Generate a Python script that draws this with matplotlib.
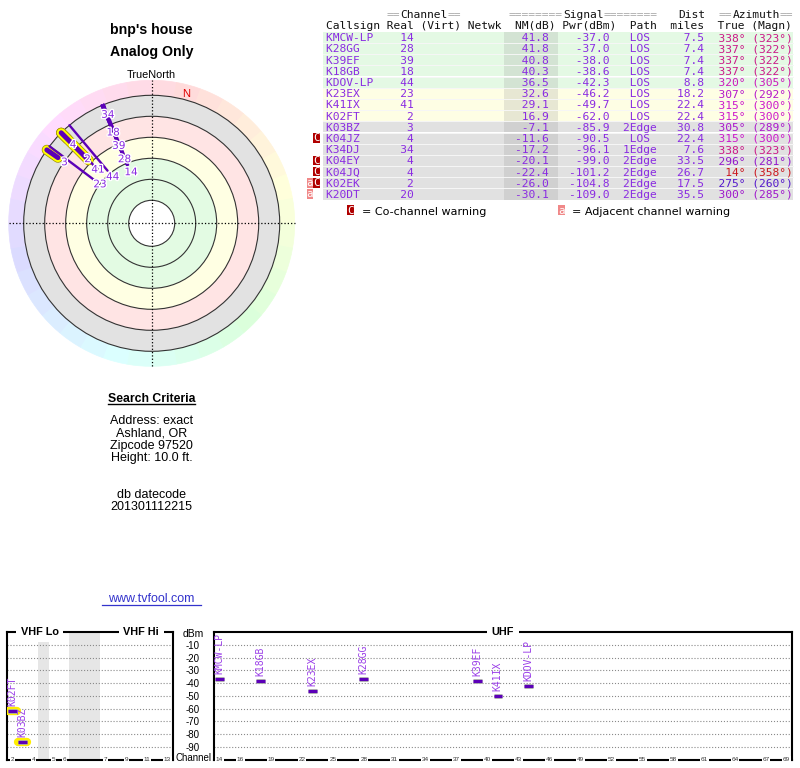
import colorsys
import numpy as np
import matplotlib
matplotlib.use('Agg')
import matplotlib.pyplot as plt
import matplotlib.patheffects as pe
import matplotlib.transforms as mtransforms
from matplotlib.patches import Wedge, Circle, Rectangle

# station table (sorted by NM)
callsigns = ['KMCW-LP', 'K28GG', 'K39EF', 'K18GB', 'KDOV-LP', 'K23EX', 'K41IX', 'K02FT',
             'K03BZ', 'K04JZ', 'K34DJ', 'K04EY', 'K04JQ', 'K02EK', 'K20DT']
real_ch = [14, 28, 39, 18, 44, 23, 41, 2, 3, 4, 34, 4, 4, 2, 20]
nm_db = [41.8, 41.8, 40.8, 40.3, 36.5, 32.6, 29.1, 16.9, -7.1, -11.6, -17.2, -20.1, -22.4, -26.0, -30.1]
pwr_dbm = [-37.0, -37.0, -38.0, -38.6, -42.3, -46.2, -49.7, -62.0, -85.9, -90.5, -96.1, -99.0,
           -101.2, -104.8, -109.0]
path = ['LOS', 'LOS', 'LOS', 'LOS', 'LOS', 'LOS', 'LOS', 'LOS', '2Edge', 'LOS', '1Edge',
        '2Edge', '2Edge', '2Edge', '2Edge']
dist_mi = [7.5, 7.4, 7.4, 7.4, 8.8, 18.2, 22.4, 22.4, 30.8, 22.4, 7.6, 33.5, 26.7, 17.5, 35.5]
az_true = [338, 337, 337, 337, 320, 307, 315, 315, 305, 315, 338, 296, 14, 275, 300]
az_magn = [323, 322, 322, 322, 305, 292, 300, 300, 289, 300, 323, 281, 358, 260, 285]
cochannel = [0, 0, 0, 0, 0, 0, 0, 0, 0, 1, 0, 1, 1, 1, 0]
adjacent = [0, 0, 0, 0, 0, 0, 0, 0, 0, 0, 0, 0, 0, 1, 1]

search_lines = ['Address: exact', 'Ashland, OR', 'Zipcode 97520', 'Height: 10.0 ft.']
datecode = ['db datecode', '201301112215']

# table headers
head1 = [(9, '=='), (11, 'Channel'), (18, '=='), (27, '========'), (35, 'Signal'),
         (41, '========'), (52, 'Dist'), (58, '=='), (60, 'Azimuth'), (67, '==')]
head2 = 'Callsign Real (Virt) Netwk  NM(dB) Pwr(dBm)  Path  miles  True (Magn)'

# spectrum axis definitions
vhf_chan = [2, 3, 4, 5, 6, 7, 8, 9, 10, 11, 12, 13]
vhf_slot = [0, 1, 2, 4, 5, 9, 10, 11, 12, 13, 14, 15]
vhf_ticks = [2, 4, 5, 6, 7, 9, 11, 13]
uhf_ticks = [14, 16, 19, 22, 25, 28, 31, 34, 37, 40, 43, 46, 49, 52, 55, 58, 61, 64, 67, 69]
dbm_ticks = [-10, -20, -30, -40, -50, -60, -70, -80, -90]

PURPLE = '#8a2be2'
LINE = '#5c00b8'
W, H = 800, 768

plt.rcParams['font.family'] = ['Liberation Sans', 'DejaVu Sans']
fig = plt.figure(figsize=(8, 7.68), dpi=100)


def box(l, t, r, b):
    return [l / W, 1 - b / H, (r - l) / W, (b - t) / H]


def az_color(m):
    return colorsys.hsv_to_rgb((m % 360) / 360.0, 0.88, 0.8)


bg = fig.add_axes([0, 0, 1, 1])
bg.set_xlim(0, W)
bg.set_ylim(H, 0)
bg.axis('off')

# ---- left column text
cx = 151.7
bg.text(cx, 34.3, "bnp's house", ha='center', va='baseline', fontsize=10.2, fontweight='bold')
bg.text(cx, 56, 'Analog Only', ha='center', va='baseline', fontsize=10.2, fontweight='bold')
bg.text(cx, 77.5, 'TrueNorth', ha='center', va='baseline', fontsize=7.8)
bg.text(cx, 401.7, 'Search Criteria', ha='center', va='baseline', fontsize=8.8, fontweight='bold')
bg.plot([cx - 43.4, cx + 43.4], [404.3, 404.3], color='black', lw=1)
for k, s in enumerate(search_lines):
    bg.text(cx, 424.3 + 12.2 * k, s, ha='center', va='baseline', fontsize=9)
for k, s in enumerate(datecode):
    bg.text(cx, 498.3 + 11.8 * k, s, ha='center', va='baseline', fontsize=9)
bg.text(cx, 602.3, 'www.tvfool.com', ha='center', va='baseline', fontsize=9, color='#3333cc')
bg.plot([cx - 49.5, cx + 49.5], [604.6, 604.6], color='#3333cc', lw=0.9)

# ---- table (monospace, placed by character column)
x0 = 326
fs_mono = 8.1
cw = fs_mono * 100 / 72 * 0.60205
row_h = 11.2
top0 = 31.7
mono = dict(family='DejaVu Sans Mono', fontsize=fs_mono, va='baseline', ha='left')

for col, s in head1:
    c = '#a8a8a8' if s.startswith('=') else '#111111'
    bg.text(x0 + col * cw, 18.3, s, color=c, **mono)
bg.text(x0, 29.3, head2, color='#111111', **mono)

for i in range(len(callsigns)):
    nm = nm_db[i]
    if nm >= 35:
        fc, sc = '#e4f9e4', '#d3e3d3'
    elif nm >= 15:
        fc, sc = '#fefee4', '#e7e7d3'
    elif nm >= 0:
        fc, sc = '#ffe4e4', '#eed3d3'
    else:
        fc, sc = '#e1e1e1', '#d0d0d0'
    t = top0 + row_h * i
    bg.add_patch(Rectangle((323, t), 469.7, row_h, fc=fc, ec='none'))
    bg.add_patch(Rectangle((504, t), 54.3, row_h, fc=sc, ec='none'))
    if i > 0:
        bg.plot([323, 792.7], [t, t], color='#f6f6f6', lw=0.7)
    yb = 41.1 + row_h * i
    main = f"{callsigns[i]:<9}{real_ch[i]:>4}{nm:>20.1f}{pwr_dbm[i]:>9.1f}  {path[i]:^5}{dist_mi[i]:>7.1f}"
    az = f"{az_true[i]:>5d}°" + f"{'(' + str(az_magn[i]) + '°)':>7}"
    bg.text(x0, yb, main, color=PURPLE, **mono)
    bg.text(x0 + 56 * cw, yb, az, color=az_color(az_magn[i]), **mono)
    yc = t + row_h / 2
    if cochannel[i]:
        bg.add_patch(Rectangle((312.7, yc - 4.8), 6.8, 9.6, fc='#b00000', ec='none'))
        bg.text(316.1, yc + 3.3, 'C', color='white', family='DejaVu Sans Mono', fontsize=7.8,
                ha='center', va='baseline')
    if adjacent[i]:
        bg.add_patch(Rectangle((306.5, yc - 4.8), 6.2, 9.6, fc='#f08888', ec='none'))
        bg.text(309.6, yc + 3.3, 'a', color='white', family='DejaVu Sans Mono', fontsize=7.8,
                ha='center', va='baseline')

# legend
bg.add_patch(Rectangle((346.7, 205.2), 6.8, 9.8, fc='#b00000', ec='none'))
bg.text(350.1, 214, 'C', color='white', family='DejaVu Sans Mono', fontsize=7.8, ha='center', va='baseline')
bg.text(361.7, 215, '= Co-channel warning', family='DejaVu Sans', fontsize=8, va='baseline')
bg.add_patch(Rectangle((558.3, 205.2), 6.2, 9.8, fc='#f08888', ec='none'))
bg.text(561.4, 214, 'a', color='white', family='DejaVu Sans Mono', fontsize=7.8, ha='center', va='baseline')
bg.text(571.7, 215, '= Adjacent channel warning', family='DejaVu Sans', fontsize=8, va='baseline')

# ---- polar (radar) plot, 1 unit = 1 px
cy = 223.3
pol = fig.add_axes(box(cx - 146, cy - 146, cx + 146, cy + 146))
pol.set_xlim(-146, 146)
pol.set_ylim(-146, 146)
pol.set_aspect('equal')
pol.axis('off')

decl = az_true[0] - az_magn[0]


def r_of(nm):
    return 107 - 1.05 * nm


for a0 in range(0, 360, 10):
    hue = ((a0 + 5 - decl) % 360) / 360.0
    col = colorsys.hsv_to_rgb(hue, 0.14, 1.0)
    pol.add_patch(Wedge((0, 0), 143, 90 - a0 - 10, 90 - a0, width=15, fc=col, ec=col, lw=0.5))
for nm_band, col in [(-20, '#e2e2e2'), (0, '#ffe4e4'), (20, '#ffffe3'), (40, '#e3fbe3'), (80, 'white')]:
    pol.add_patch(Circle((0, 0), r_of(nm_band), fc=col, ec='none'))
for nm_band in [-20, 0, 20, 40, 60, 80]:
    pol.add_patch(Circle((0, 0), r_of(nm_band), fill=False, ec='#333333', lw=0.8))
pol.plot([-143, 143], [0, 0], ls=':', color='black', lw=0.9)
pol.plot([0, 0], [-143, 143], ls=':', color='black', lw=0.9)

a = np.radians(decl)
pol.text(134 * np.sin(a), 134 * np.cos(a), 'N', color='#e00000', fontsize=8, ha='center', va='center')

shown = [i for i in range(len(callsigns)) if nm_db[i] >= -20]
for i in reversed(shown):
    a = np.radians(az_true[i])
    rr = np.array([r_of(-20), r_of(nm_db[i])])
    if 2 <= real_ch[i] <= 6:
        pol.plot(rr * np.sin(a), rr * np.cos(a), color=LINE, lw=3.6, solid_capstyle='round',
                 path_effects=[pe.Stroke(linewidth=7.4, foreground='#a09000'),
                               pe.Stroke(linewidth=6.4, foreground='#ffff00'), pe.Normal()])
    else:
        pol.plot(rr * np.sin(a), rr * np.cos(a), color=LINE, lw=1.7, solid_capstyle='round')

placed = []
for i in shown:
    a = np.radians(az_true[i])
    r = r_of(nm_db[i]) - 8
    while any(np.hypot(r * np.sin(a) - px, r * np.cos(a) - py) < 14.5 for px, py in placed):
        r += 0.5
    placed.append((r * np.sin(a), r * np.cos(a)))
    pol.text(r * np.sin(a), r * np.cos(a), str(real_ch[i]), color=PURPLE, fontsize=7.5,
             family='DejaVu Sans', ha='center', va='center',
             path_effects=[pe.withStroke(linewidth=2, foreground='white')])

# ---- spectrum panels
vhf = fig.add_axes(box(7.3, 632.3, 172.7, 759.5))
uhf = fig.add_axes(box(214.3, 632.3, 791.7, 759.5))
vhf.set_xlim(-0.5, 15.5)
uhf.set_xlim(13.5, 69.5)


def vslot(ch):
    return np.interp(ch, vhf_chan, vhf_slot)


for ax in (vhf, uhf):
    ax.set_ylim(-100, 0)
    ax.set_yticks(dbm_ticks)
    ax.set_xticks([])
    ax.yaxis.grid(True, ls=':', color='#8a8a8a', lw=0.8)
    ax.set_axisbelow(True)
    ax.tick_params(length=0)
    for sp in ax.spines.values():
        sp.set_linewidth(1.5)
        sp.set_color('black')
vhf.set_yticklabels([])
uhf.set_yticklabels([str(v) for v in dbm_ticks], fontsize=7)
uhf.tick_params(axis='y', pad=10.6)

vhf.axvspan(2.5, 3.5, color='#e6e6e6', lw=0, zorder=0)
vhf.axvspan(5.5, 8.5, color='#e6e6e6', lw=0, zorder=0)

title_kw = dict(ha='center', va='center', fontsize=7.8, fontweight='bold', zorder=5, clip_on=False,
                bbox=dict(fc='white', ec='none', pad=3.2))
vhf.text(0.197, 1.0, 'VHF Lo', transform=vhf.transAxes, **title_kw)
vhf.text(0.81, 1.0, 'VHF Hi', transform=vhf.transAxes, **title_kw)
uhf.text(0.5, 1.0, 'UHF', transform=uhf.transAxes, **title_kw)

tick_kw = dict(ha='center', va='center', fontsize=4.6, color='#333333', zorder=5, clip_on=False,
               bbox=dict(fc='white', ec='none', pad=0.6))
tv = mtransforms.blended_transform_factory(vhf.transData, vhf.transAxes)
for ch in vhf_ticks:
    vhf.text(vslot(ch), 0.0, str(ch), transform=tv, **tick_kw)
tu = mtransforms.blended_transform_factory(uhf.transData, uhf.transAxes)
for ch in uhf_ticks:
    uhf.text(ch, 0.0, str(ch), transform=tu, **tick_kw)

bg.text(193.7, 636.7, 'dBm', ha='center', va='baseline', fontsize=7.5)
bg.text(194, 758, 'Channel', ha='center', va='center', fontsize=7)

for i in range(len(callsigns)):
    if nm_db[i] <= -10:
        continue
    ch = real_ch[i]
    if ch <= 13:
        ax, x = vhf, float(vslot(ch))
    else:
        ax, x = uhf, ch
    effects = [pe.Stroke(linewidth=3.4, foreground='#a8a8a8'), pe.Normal()]
    if 2 <= ch <= 6:
        effects = [pe.Stroke(linewidth=6.0, foreground='#ffee00', capstyle='round')] + effects
    ax.plot([x - 0.42, x + 0.42], [pwr_dbm[i], pwr_dbm[i]], color=LINE, lw=2.2,
            solid_capstyle='butt', path_effects=effects, zorder=4)
    ax.annotate(callsigns[i], (x, pwr_dbm[i]), xytext=(0, 3.6), textcoords='offset points',
                rotation=90, ha='center', va='bottom', fontsize=7, family='DejaVu Sans Mono',
                color='#9a3ee8', zorder=4)

fig.savefig('out.png', dpi=100)
